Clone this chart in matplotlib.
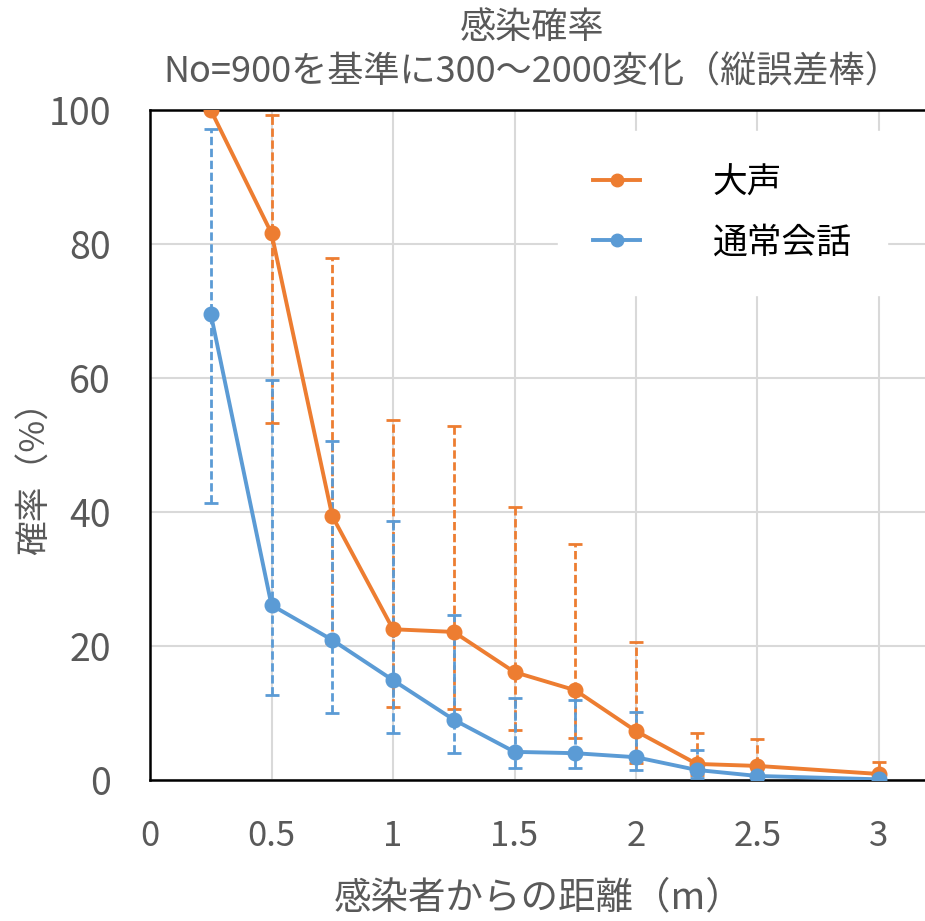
import numpy as np
import matplotlib.pyplot as plt

plt.rcParams['font.family'] = ['Noto Sans CJK JP', 'DejaVu Sans']

# distance from infected person (m)
dist = [0.25, 0.5, 0.75, 1.0, 1.25, 1.5, 1.75, 2.0, 2.25, 2.5, 3.0]

# 大声 (loud voice)
loud = [100, 81.6, 39.4, 22.5, 22.1, 16.1, 13.4, 7.3, 2.4, 2.1, 0.9]
loud_hi = [np.nan, 99.3, 77.9, 53.7, 52.9, 40.8, 35.2, 20.6, 7.0, 6.1, 2.7]
loud_lo = [np.nan, 53.3, 20.5, 10.9, 10.6, 7.5, 6.3, 2.5, 0.8, 0.5, 0.2]

# 通常会話 (normal conversation)
normal = [69.6, 26.1, 20.9, 14.9, 9.0, 4.2, 4.0, 3.4, 1.5, 0.6, 0.1]
normal_hi = [97.2, 59.7, 50.6, 38.6, 24.6, 12.3, 11.9, 10.2, 4.5, np.nan, np.nan]
normal_lo = [41.4, 12.7, 10.0, 7.0, 4.1, 1.8, 1.8, 1.5, 0.3, np.nan, np.nan]

orange = '#ED7D31'
blue = '#5B9BD5'
grey = '#595959'

fig = plt.figure(figsize=(9.25, 9.21), dpi=100)
ax = fig.add_axes([150/925, 1-780/921, 777.6/925, 670/921])


def err_bars(ax, x, y, hi, lo, c):
    x = np.array(x); y = np.array(y); hi = np.array(hi); lo = np.array(lo)
    ok = ~np.isnan(hi)
    yerr = [y[ok] - lo[ok], hi[ok] - y[ok]]
    _, caps, bars = ax.errorbar(x[ok], y[ok], yerr=yerr, fmt='none', ecolor=c,
                                elinewidth=2.0, capsize=5, capthick=2.0, zorder=3)
    bars[0].set_linestyle((0, (3, 1.3)))


err_bars(ax, dist, loud, loud_hi, loud_lo, orange)
err_bars(ax, dist, normal, normal_hi, normal_lo, blue)

ax.plot(dist, loud, '-o', color=orange, lw=2.8, ms=10.5, label='大声', zorder=4)
ax.plot(dist, normal, '-o', color=blue, lw=2.8, ms=10.5, label='通常会話', zorder=5)

ax.set_xlim(0, 3.2)
ax.set_ylim(0, 100)
ax.set_xticks([0, 0.5, 1, 1.5, 2, 2.5, 3])
ax.set_xticklabels(['0', '0.5', '1', '1.5', '2', '2.5', '3'])
ax.set_yticks([0, 20, 40, 60, 80, 100])
ax.grid(color='#d9d9d9', lw=1.5, zorder=0)
ax.set_axisbelow(True)
ax.tick_params(length=0, colors=grey)
ax.tick_params(axis='x', labelsize=25, pad=28)
ax.tick_params(axis='y', labelsize=27, pad=28)
for s in ['left', 'bottom', 'top']:
    ax.spines[s].set_linewidth(1.8)
    ax.spines[s].set_color('black')
ax.spines['right'].set_visible(False)

ax.set_xlabel('感染者からの距離（m）', fontsize=27, color=grey, labelpad=18)
ax.set_ylabel('確率（%）', fontsize=25, color=grey)
ax.yaxis.set_label_coords(-0.125, 0.463)
ax.set_title('感染確率\nNo=900を基準に300～2000変化（縦誤差棒）', fontsize=26,
             color=grey, pad=20, linespacing=1.3, x=0.491)

leg = ax.legend(loc='upper left', bbox_to_anchor=(0.503, 0.995), fontsize=25,
                frameon=True, fancybox=False, edgecolor='white', framealpha=1,
                handlelength=1.35, handletextpad=2.1, labelspacing=0.72,
                borderpad=1.0)
for t in leg.get_texts():
    t.set_color('black')
for h in leg.legend_handles:
    h.set_linewidth(2.8)
    h.set_markersize(9)

fig.savefig('out.png', dpi=100)
